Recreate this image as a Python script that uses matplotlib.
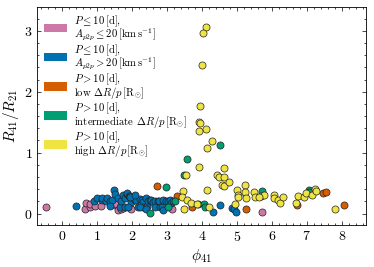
import matplotlib
matplotlib.use("Agg")
import matplotlib.pyplot as plt
from matplotlib.patches import Patch
from matplotlib.ticker import MultipleLocator, FuncFormatter

plt.rcParams['font.family'] = 'serif'
plt.rcParams['font.serif'] = ['cmr10', 'DejaVu Serif']
plt.rcParams['mathtext.fontset'] = 'cm'
plt.rcParams['axes.unicode_minus'] = False

# --- data ---
# P <= 10 d, A_p2p <= 20 km/s
pink_x = [-0.44, 0.66, 0.69, 0.80, 0.82, 0.94, 1.13, 1.51, 1.56, 1.61, 1.68, 1.75, 1.94, 1.99, 3.16, 5.72]
pink_y = [0.11, 0.08, 0.17, 0.10, 0.15, 0.12, 0.12, 0.14, 0.16, 0.06, 0.07, 0.09, 0.09, 0.08, 0.07, 0.02]

# P <= 10 d, A_p2p > 20 km/s
blue_x = [0.42, 0.91, 1.01, 1.14, 1.16, 1.26, 1.30, 1.39, 1.42, 1.49, 1.51, 1.61, 1.66, 1.68,
          1.75, 1.80, 1.80, 1.85, 1.87, 1.92, 1.96, 1.99, 2.04, 2.09, 2.13, 2.18, 2.23, 2.28,
          2.32, 2.32, 2.40, 2.42, 2.47, 2.51, 2.56, 2.61, 2.66, 2.66, 2.75, 2.78, 2.80, 2.85,
          2.89, 2.89, 2.99, 3.04, 3.09, 3.13, 3.18, 1.37, 1.90, 2.23, 2.40, 1.94, 2.10,
          4.33, 4.51, 4.85, 4.92, 4.98]
blue_y = [0.12, 0.21, 0.26, 0.22, 0.26, 0.21, 0.26, 0.21, 0.22, 0.39, 0.32, 0.25, 0.11, 0.20,
          0.31, 0.25, 0.10, 0.32, 0.33, 0.29, 0.28, 0.19, 0.25, 0.22, 0.22, 0.11, 0.24, 0.22,
          0.19, 0.10, 0.26, 0.13, 0.21, 0.22, 0.22, 0.19, 0.20, 0.10, 0.21, 0.20, 0.10, 0.11,
          0.22, 0.06, 0.20, 0.21, 0.22, 0.17, 0.20, 0.12, 0.11, 0.11, 0.08, 0.27, 0.30,
          0.03, 0.14, 0.09, 0.07, 0.02]

# P > 10 d, low dR/p
orange_x = [2.71, 3.29, 3.73, 5.25, 6.73, 7.47, 7.54, 8.05]
orange_y = [0.45, 0.29, 0.11, 0.07, 0.14, 0.33, 0.36, 0.14]

# P > 10 d, intermediate dR/p
green_x = [2.51, 2.99, 3.04, 3.23, 3.49, 3.57, 3.90, 4.05, 4.09, 4.52, 5.73, 7.07, 7.07]
green_y = [0.01, 0.43, 0.11, 0.21, 0.63, 0.89, 0.15, 0.15, 0.11, 1.12, 0.37, 0.39, 0.35]

# P > 10 d, high dR/p
yellow_x = [4.13, 4.02, 4.00, 3.96, 3.91, 3.96, 4.11, 3.92, 4.30, 4.15, 3.92, 4.62, 3.56, 4.43,
            4.50, 4.63, 4.57, 4.64, 4.79, 3.47, 4.15, 3.42, 3.58, 3.69, 3.85, 4.21, 3.49, 4.96,
            5.01, 5.02, 5.04, 5.22, 5.24, 5.25, 5.50, 5.52, 5.69, 5.78, 5.64, 6.06, 6.05, 6.19,
            6.24, 6.31, 6.68, 6.75, 6.92, 6.99, 7.14, 7.23, 7.27, 7.79]
yellow_y = [3.07, 2.96, 2.44, 1.76, 1.51, 1.49, 1.39, 1.36, 1.19, 1.07, 0.76, 0.74, 0.63, 0.64,
            0.60, 0.60, 0.47, 0.46, 0.52, 0.37, 0.38, 0.27, 0.23, 0.18, 0.16, 0.11, 0.07, 0.16,
            0.38, 0.30, 0.27, 0.47, 0.36, 0.26, 0.36, 0.27, 0.29, 0.30, 0.27, 0.31, 0.25, 0.23,
            0.17, 0.27, 0.18, 0.29, 0.27, 0.33, 0.31, 0.41, 0.37, 0.07]

colors = ['#CC79A7', '#0072B2', '#D55E00', '#009E73', '#F0E442']
labels = [
    '$P \\leq 10\\,[\\mathrm{d}]$,\n$A_{p2p} \\leq 20\\,[\\mathrm{km\\,s^{-1}}]$',
    '$P \\leq 10\\,[\\mathrm{d}]$,\n$A_{p2p} > 20\\,[\\mathrm{km\\,s^{-1}}]$',
    '$P > 10\\,[\\mathrm{d}]$,\nlow $\\Delta R/p\\,[\\mathrm{R}_{\\odot}]$',
    '$P > 10\\,[\\mathrm{d}]$,\nintermediate $\\Delta R/p\\,[\\mathrm{R}_{\\odot}]$',
    '$P > 10\\,[\\mathrm{d}]$,\nhigh $\\Delta R/p\\,[\\mathrm{R}_{\\odot}]$',
]

fig = plt.figure(figsize=(3.74, 2.67), dpi=100)
ax = fig.add_axes([0.0997, 0.157, 0.878, 0.816])

groups = [(pink_x, pink_y), (blue_x, blue_y), (orange_x, orange_y),
          (green_x, green_y), (yellow_x, yellow_y)]
for (gx, gy), c in zip(groups, colors):
    ax.scatter(gx, gy, s=26, c=c, edgecolors='#222222', linewidths=0.5, zorder=3)

ax.set_xlim(-0.7, 8.68)
ax.set_ylim(-0.19, 3.39)
ax.xaxis.set_major_locator(MultipleLocator(1))
ax.xaxis.set_minor_locator(MultipleLocator(0.2))
ax.yaxis.set_major_locator(MultipleLocator(1))
ax.yaxis.set_minor_locator(MultipleLocator(0.2))
fmt = FuncFormatter(lambda v, p: f'${v:.0f}$')
ax.xaxis.set_major_formatter(fmt)
ax.yaxis.set_major_formatter(fmt)
ax.tick_params(which='both', direction='in', top=True, right=True, width=0.5, labelsize=10)
ax.tick_params(which='major', length=3)
ax.tick_params(which='minor', length=1.5)
for sp in ax.spines.values():
    sp.set_linewidth(0.6)

ax.set_xlabel('$\\phi_{41}$', fontsize=11, labelpad=2)
ax.set_ylabel('$R_{41}/R_{21}$', fontsize=11, labelpad=2)

handles = [Patch(facecolor=c, edgecolor='none') for c in colors]
leg = ax.legend(handles, labels, loc='upper left', fontsize=7.7, frameon=False,
                handlelength=2.2, handleheight=0.8, handletextpad=0.6, labelspacing=0.0,
                borderaxespad=0.2, bbox_to_anchor=(0.0, 1.0))
for t in leg.get_texts():
    t.set_linespacing(0.78)

fig.savefig('out.png', dpi=100)
